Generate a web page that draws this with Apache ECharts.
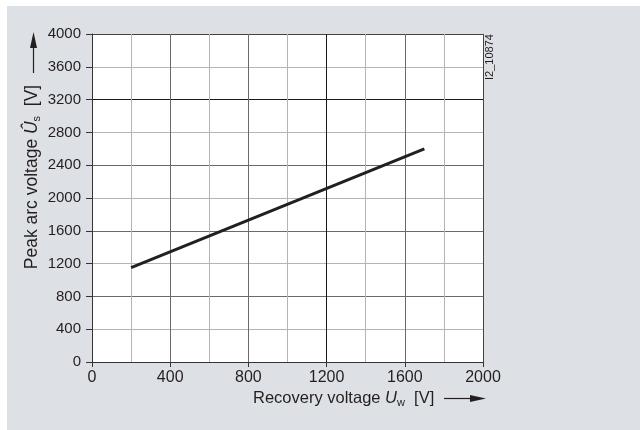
<!DOCTYPE html>
<html>
<head>
<meta charset="utf-8">
<script src="https://cdn.jsdelivr.net/npm/echarts@6/dist/echarts.min.js"></script>
<style>
html,body{margin:0;padding:0;background:#fff;}
#c{width:640px;height:430px;}
</style>
</head>
<body>
<div id="c"></div>
<script>
// Data
var xTicks = [0, 400, 800, 1200, 1600, 2000];
var yTicks = [0, 400, 800, 1200, 1600, 2000, 2400, 2800, 3200, 3600, 4000];
var recoveryVoltage = [200, 1700];
var peakArcVoltage = [1150, 2600];
var docId = 'I2_10874';

var FONT = '"Liberation Sans", Arial, Helvetica, sans-serif';
var TXT = '#231f20';

var seriesData = recoveryVoltage.map(function (x, i) { return [x, peakArcVoltage[i]]; });
function plain(v) { return String(v); }

var chart = echarts.init(document.getElementById('c'), null, {renderer: 'canvas'});
chart.setOption({
  animation: false,
  backgroundColor: '#ffffff',
  grid: {left: 92, right: 157, top: 34, bottom: 68, show: true, backgroundColor: '#ffffff', borderWidth: 0},
  xAxis: {
    type: 'value', min: xTicks[0], max: xTicks[xTicks.length - 1], interval: 400,
    axisLine: {show: true, lineStyle: {color: '#333', width: 1}},
    axisTick: {show: true, length: 5, lineStyle: {color: '#333'}},
    axisLabel: {color: TXT, fontFamily: FONT, fontSize: 16, margin: 8, formatter: plain},
    minorTick: {show: false, splitNumber: 2},
    minorSplitLine: {show: true, lineStyle: {color: '#b4b4b4', width: 1}},
    splitLine: {show: true, lineStyle: {color: ['#444', '#6a6a6a', '#6a6a6a', '#1a1a1a', '#6a6a6a', '#444'], width: 1}}
  },
  yAxis: {
    type: 'value', min: yTicks[0], max: yTicks[yTicks.length - 1], interval: 400,
    axisLine: {show: true, lineStyle: {color: '#333', width: 1}},
    axisTick: {show: true, length: 6, lineStyle: {color: '#333'}},
    axisLabel: {color: TXT, fontFamily: FONT, fontSize: 15, margin: 11, formatter: plain},
    splitLine: {show: true, lineStyle: {color: ['#444', '#b4b4b4', '#6a6a6a', '#b4b4b4', '#6a6a6a', '#b4b4b4', '#6a6a6a', '#b4b4b4', '#1a1a1a', '#b4b4b4', '#444'], width: 1}}
  },
  series: [{
    type: 'line', data: seriesData, showSymbol: false, symbol: 'none',
    lineStyle: {color: '#231f20', width: 3}, z: 5
  }],
  graphic: [
    {type: 'rect', z: -10, silent: true, shape: {x: 7, y: 6, width: 633, height: 424}, style: {fill: '#dde1e5'}},
    // y axis name
    {type: 'text', x: 32, y: 177, rotation: Math.PI / 2, z: 10,
      style: {
        text: 'Peak arc voltage {it|Û}{sub|s}  [V]', align: 'center', verticalAlign: 'middle',
        fill: TXT, font: '17.5px ' + FONT,
        rich: {
          it: {fontStyle: 'italic', fontSize: 17.5, fontFamily: FONT, fill: TXT, lineHeight: 20},
          sub: {fontSize: 11, fontFamily: FONT, fill: TXT, verticalAlign: 'bottom', lineHeight: 11}
        }
      }},
    // y arrow
    {type: 'line', z: 10, shape: {x1: 33.5, y1: 73, x2: 33.5, y2: 46}, style: {stroke: TXT, lineWidth: 1.2}},
    {type: 'polygon', z: 10, shape: {points: [[33.5, 32], [30, 48], [37, 48]]}, style: {fill: TXT}},
    // x axis name
    {type: 'text', x: 253, y: 398, z: 10,
      style: {
        text: 'Recovery voltage {it|U}{sub|w}  [V]', align: 'left', verticalAlign: 'middle',
        fill: TXT, font: '16.5px ' + FONT,
        rich: {
          it: {fontStyle: 'italic', fontSize: 16.5, fontFamily: FONT, fill: TXT, lineHeight: 20},
          sub: {fontSize: 11, fontFamily: FONT, fill: TXT, verticalAlign: 'bottom', lineHeight: 11}
        }
      }},
    // x arrow
    {type: 'line', z: 10, shape: {x1: 444, y1: 398.5, x2: 472, y2: 398.5}, style: {stroke: TXT, lineWidth: 1.2}},
    {type: 'polygon', z: 10, shape: {points: [[486, 398.5], [470, 395], [470, 402]]}, style: {fill: TXT}},
    // document id
    {type: 'text', x: 490, y: 57, rotation: Math.PI / 2, z: 10,
      style: {text: docId, align: 'center', verticalAlign: 'middle', fill: TXT, font: '11px ' + FONT}}
  ]
});
</script>
</body>
</html>
